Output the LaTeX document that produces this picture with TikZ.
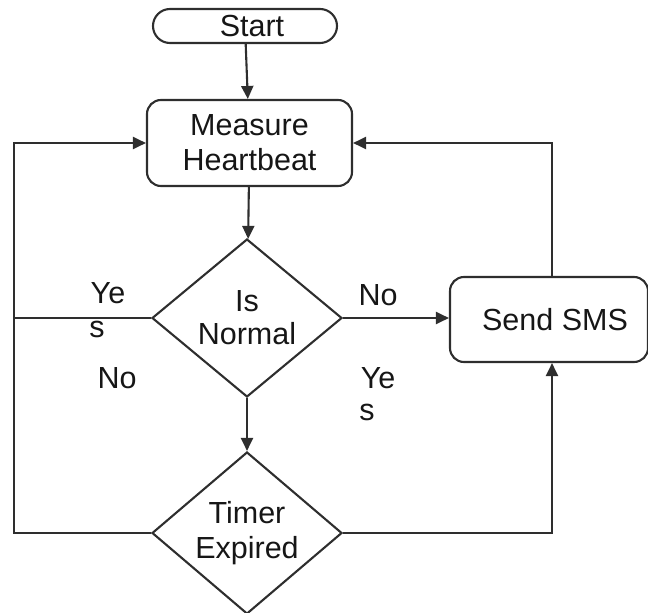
\documentclass[tikz,border=0pt]{standalone}
\usepackage{fontspec}
\setmainfont{Liberation Sans}
\usetikzlibrary{shapes.geometric,arrows.meta}
\definecolor{inkline}{HTML}{2E2E2E}
\definecolor{inktext}{HTML}{161616}
\tikzset{
  every node/.style={font=\fontsize{30.5}{35}\selectfont, text=inktext},
  terminal/.style={draw=inkline, line width=2.1pt, rounded corners=17pt,
    minimum width=184pt, minimum height=34pt, inner sep=0pt},
  process/.style={draw=inkline, line width=2.1pt, rounded corners=14pt,
    align=center, inner sep=0pt},
  decision/.style={draw=inkline, line width=2.1pt, diamond, aspect=1.2,
    align=center, inner sep=0pt, minimum width=190pt},
  flow/.style={draw=inkline, line width=2.1pt},
  arr/.style={flow, -{Triangle[length=13pt,width=12pt]}},
  lbl/.style={inner sep=0pt}
}
\begin{document}
\begin{tikzpicture}[x=1pt, y=-1pt]
  \useasboundingbox (0,0) rectangle (648,613);
  % boxes
  \node[terminal] (start) at (245,26) {\hspace*{14pt}Start};
  \node[process, minimum width=205pt, minimum height=86pt] (measure) at (249.5,143) {Measure\\Heartbeat};
  \node[decision, minimum height=158pt, font=\fontsize{30.5}{33}\selectfont] (isnormal) at (247,318) {Is\\Normal};
  \node[process, minimum width=198pt, minimum height=85pt] (sms) at (549,319.5) {\hspace*{12pt}Send SMS};
  \node[decision, minimum height=162pt] (timer) at (247,533) {Timer\\Expired};
  % left return bus
  \coordinate (lb) at (14,533);
  \coordinate (lt) at (14,142);
  % connectors
  \draw[arr] (start) -- (measure);
  \draw[arr] (measure) -- (isnormal);
  \draw[arr] (isnormal.east) -- (isnormal.east -| sms.west);
  \draw[arr] ([xshift=3pt]sms.north) |- (measure.east);
  \draw[arr] (isnormal) -- (timer);
  \draw[arr] (timer.east) -| ([xshift=3pt]sms.south);
  \draw[arr] (timer.west) -- (lb) |- (measure.west);
  \draw[flow] (isnormal.west) -- (isnormal.west -| lb);
  % branch labels
  \node[lbl] (ly1) at (108,293) {Ye};
  \node[lbl] (ly2) at (97,329) {s};
  \node[lbl] (ln1) at (117,378) {No};
  \node[lbl] (ln2) at (378,295) {No};
  \node[lbl] (ly3) at (378,378) {Ye};
  \node[lbl] (ly4) at (367,412) {s};
\end{tikzpicture}
\end{document}
